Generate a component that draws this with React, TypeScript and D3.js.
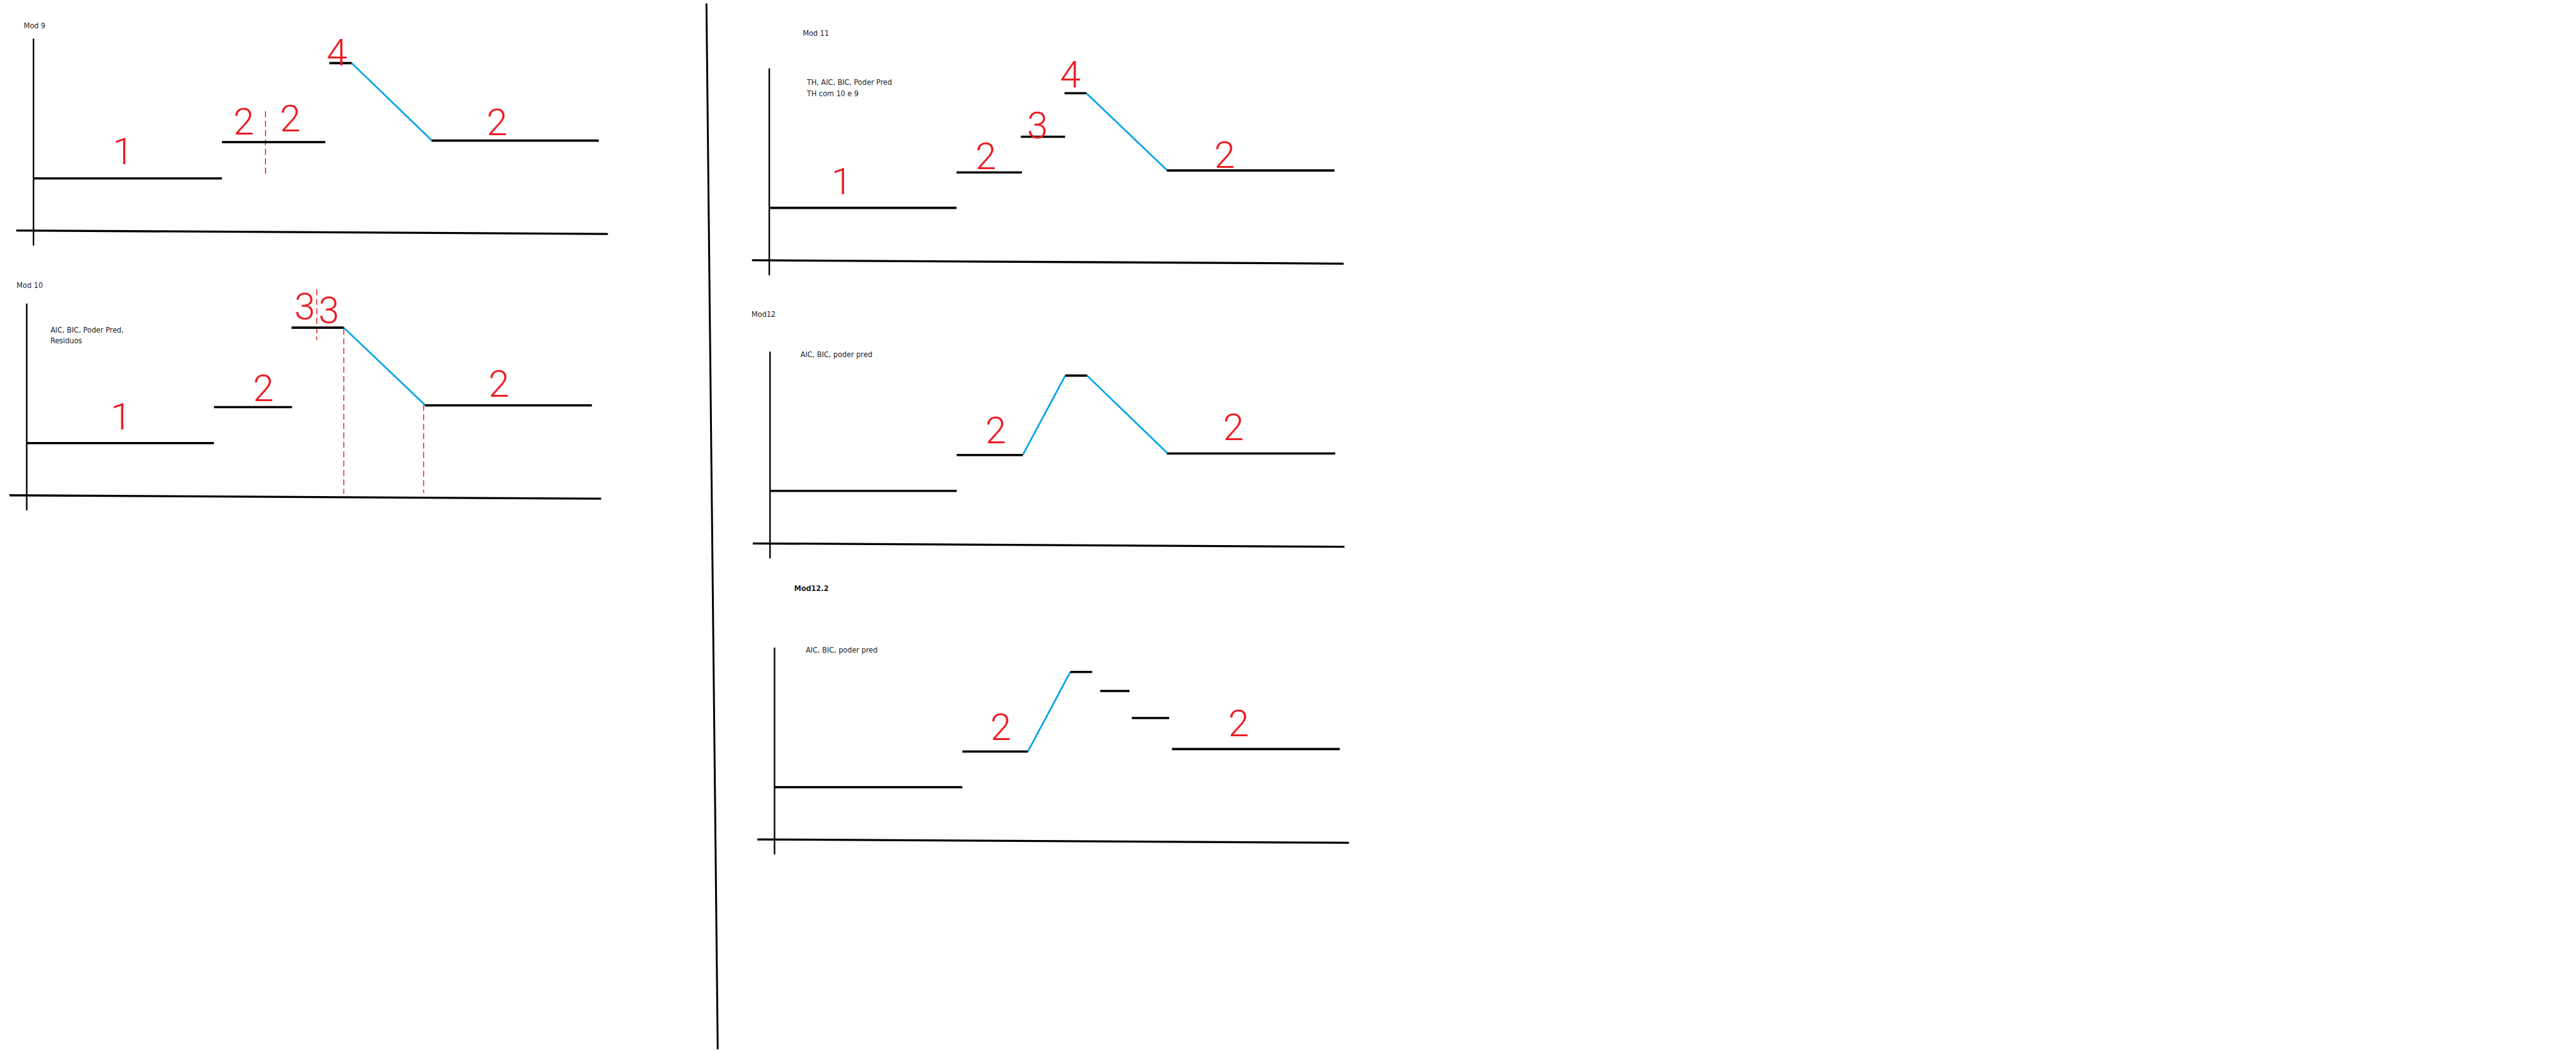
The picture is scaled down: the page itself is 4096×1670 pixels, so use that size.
import React, { useEffect, useRef } from "react";
import * as d3 from "d3";

// Each panel is drawn in its own 0..100 x 0..100 space (x along the x-axis, y up the y-axis)
// steps: [xStart, xEnd, level]  slopes: [x0, y0, x1, y1]  guides: [x, yTop, yBottom]  marks: [text, x, y]

const mod9Steps = [[0, 32.8, 27.2], [32.8, 50.8, 46.1], [51.5, 55.4, 87.3], [69.3, 98.4, 46.9]];
const mod9Slopes = [[55.4, 87.3, 69.3, 47.1]];
const mod9Guides = [[40.4, 62.2, 29.6]];
const mod9Marks = [["1", 15.6, 41.8], ["2", 36.6, 57.1], ["2", 44.7, 58.8], ["4", 52.8, 93.1], ["2", 80.7, 56.7]];

const mod10Steps = [[0, 32.6, 27.2], [32.6, 46.2, 46.0], [46.1, 55.2, 87.4], [69.3, 98.4, 46.9]];
const mod10Slopes = [[55.2, 87.4, 69.3, 47.2]];
const mod10Guides = [[50.5, 107.3, 81.0], [55.2, 86.7, 0.8], [69.1, 47.1, 1.2]];
const mod10Marks = [["1", 16.4, 41.4], ["2", 41.2, 56.1], ["3", 48.4, 98.8], ["3", 52.6, 96.7], ["2", 82.2, 58.4]];
const mod10Notes = ["AIC, BIC, Poder Pred,", "Residuos"];

const mod11Steps = [[0, 32.6, 27.3], [32.6, 44.0, 45.8], [43.8, 51.5, 64.4], [51.4, 55.2, 87.1], [69.2, 98.4, 46.8]];
const mod11Slopes = [[55.2, 87.1, 69.2, 47.1]];
const mod11Marks = [["1", 12.6, 41.6], ["2", 37.7, 54.5], ["3", 46.7, 70.6], ["4", 52.4, 97.1], ["2", 79.3, 55.3]];
const mod11Notes = ["TH, AIC, BIC, Poder Pred", "TH com 10 e 9"];

const mod12Steps = [[0, 32.5, 27.4], [32.5, 44.0, 46.1], [51.4, 55.2, 87.5], [69.1, 98.4, 46.9]];
const mod12Slopes = [[44.0, 46.1, 51.4, 87.5], [55.2, 87.5, 69.1, 47.3]];
const mod12Marks = [["2", 39.3, 59.2], ["2", 80.7, 60.8]];
const mod12Notes = ["AIC, BIC, poder pred"];

const mod122Steps = [[0, 32.7, 27.2], [32.7, 44.1, 45.8], [51.5, 55.3, 87.3], [56.7, 61.8, 77.4], [62.2, 68.7, 63.3], [69.2, 98.4, 47.1]];
const mod122Slopes = [[44.1, 45.8, 51.5, 87.3]];
const mod122Marks = [["2", 39.4, 59.0], ["2", 80.8, 60.8]];
const mod122Notes = ["AIC, BIC, poder pred"];

// layout in reference pixels (6848 x 2792)
const panels = [
  { title: "Mod 9", bold: false, ox: 89, oy: 613, tx: 63, ty: 76, nx: 0, ny: 0,
    steps: mod9Steps, slopes: mod9Slopes, guides: mod9Guides, marks: mod9Marks, notes: [] },
  { title: "Mod 10", bold: false, ox: 71, oy: 1317, tx: 44, ty: 765, nx: 134, ny: 884,
    steps: mod10Steps, slopes: mod10Slopes, guides: mod10Guides, marks: mod10Marks, notes: mod10Notes },
  { title: "Mod 11", bold: false, ox: 2045, oy: 692, tx: 2134, ty: 95, nx: 2145, ny: 226,
    steps: mod11Steps, slopes: mod11Slopes, guides: [], marks: mod11Marks, notes: mod11Notes },
  { title: "Mod12", bold: false, ox: 2047, oy: 1445, tx: 1998, ty: 842, nx: 2128, ny: 949,
    steps: mod12Steps, slopes: mod12Slopes, guides: [], marks: mod12Marks, notes: mod12Notes },
  { title: "Mod12.2", bold: true, ox: 2059, oy: 2232, tx: 2111, ty: 1572, nx: 2142, ny: 1736,
    steps: mod122Steps, slopes: mod122Slopes, guides: [], marks: mod122Marks, notes: mod122Notes },
];

const W = 6848;
const H = 2792;
const PW = 1527; // panel x-axis length
const PH = 510; // panel y-axis height
const textFont = "'Liberation Sans Narrow', 'DejaVu Sans Condensed', sans-serif";

const App = () => {
  const ref = useRef(null);

  useEffect(() => {
    const svg = d3.select(ref.current);
    svg.selectAll("*").remove();

    // big divider between left and right columns
    svg.append("line")
      .attr("x1", 1878).attr("y1", 9)
      .attr("x2", 1908).attr("y2", 2790)
      .attr("stroke", "#000")
      .attr("stroke-width", 5);

    panels.forEach(p => {
      const x = d3.scaleLinear().domain([0, 100]).range([p.ox, p.ox + PW]);
      const y = d3.scaleLinear().domain([0, 100]).range([p.oy, p.oy - PH]);
      const g = svg.append("g");

      // title
      g.append("text")
        .attr("x", p.tx).attr("y", p.ty)
        .attr("font-family", textFont)
        .attr("font-size", 21)
        .attr("font-weight", p.bold ? "bold" : "normal")
        .attr("fill", "#1c1c28")
        .text(p.title);

      // notes
      g.selectAll(".note")
        .data(p.notes)
        .enter()
        .append("text")
        .attr("x", p.nx)
        .attr("y", (d, i) => p.ny + i * 29)
        .attr("font-family", textFont)
        .attr("font-size", 21)
        .attr("fill", "#1c1c28")
        .text(d => d);

      // axes
      g.append("line")
        .attr("x1", x(0)).attr("y1", y(0) + 40)
        .attr("x2", x(0)).attr("y2", y(100))
        .attr("stroke", "#000").attr("stroke-width", 4);
      g.append("line")
        .attr("x1", x(-3)).attr("y1", y(0))
        .attr("x2", x(100)).attr("y2", y(0) + 9)
        .attr("stroke", "#000").attr("stroke-width", 5.5);

      // red dashed guides
      g.selectAll(".guide")
        .data(p.guides)
        .enter()
        .append("line")
        .attr("x1", d => x(d[0])).attr("y1", d => y(d[1]))
        .attr("x2", d => x(d[0])).attr("y2", d => y(d[2]))
        .attr("stroke", "#ed1c24")
        .attr("stroke-width", 2.5)
        .attr("stroke-dasharray", "16 9");

      // blue slopes
      g.selectAll(".slope")
        .data(p.slopes)
        .enter()
        .append("line")
        .attr("x1", d => x(d[0])).attr("y1", d => y(d[1]))
        .attr("x2", d => x(d[2])).attr("y2", d => y(d[3]))
        .attr("stroke", "#00a2e8")
        .attr("stroke-width", 4.5);

      // black steps
      g.selectAll(".step")
        .data(p.steps)
        .enter()
        .append("line")
        .attr("x1", d => x(d[0])).attr("y1", d => y(d[2]))
        .attr("x2", d => x(d[1])).attr("y2", d => y(d[2]))
        .attr("stroke", "#000")
        .attr("stroke-width", 6);

      // red hand-written numbers
      g.selectAll(".mark")
        .data(p.marks)
        .enter()
        .append("text")
        .attr("x", d => x(d[1]))
        .attr("y", d => y(d[2]) + 36)
        .attr("text-anchor", "middle")
        .attr("font-family", "Roboto, sans-serif")
        .attr("font-weight", 300)
        .attr("font-size", 100)
        .attr("fill", "#ed1c24")
        .text(d => d[0]);
    });
  }, []);

  return (
    <svg
      ref={ref}
      width={4096}
      height={1670}
      viewBox={`0 0 ${W} ${H}`}
      style={{ position: "absolute", left: 0, top: 0, background: "#fff" }}
    ></svg>
  );
};

export default App;
